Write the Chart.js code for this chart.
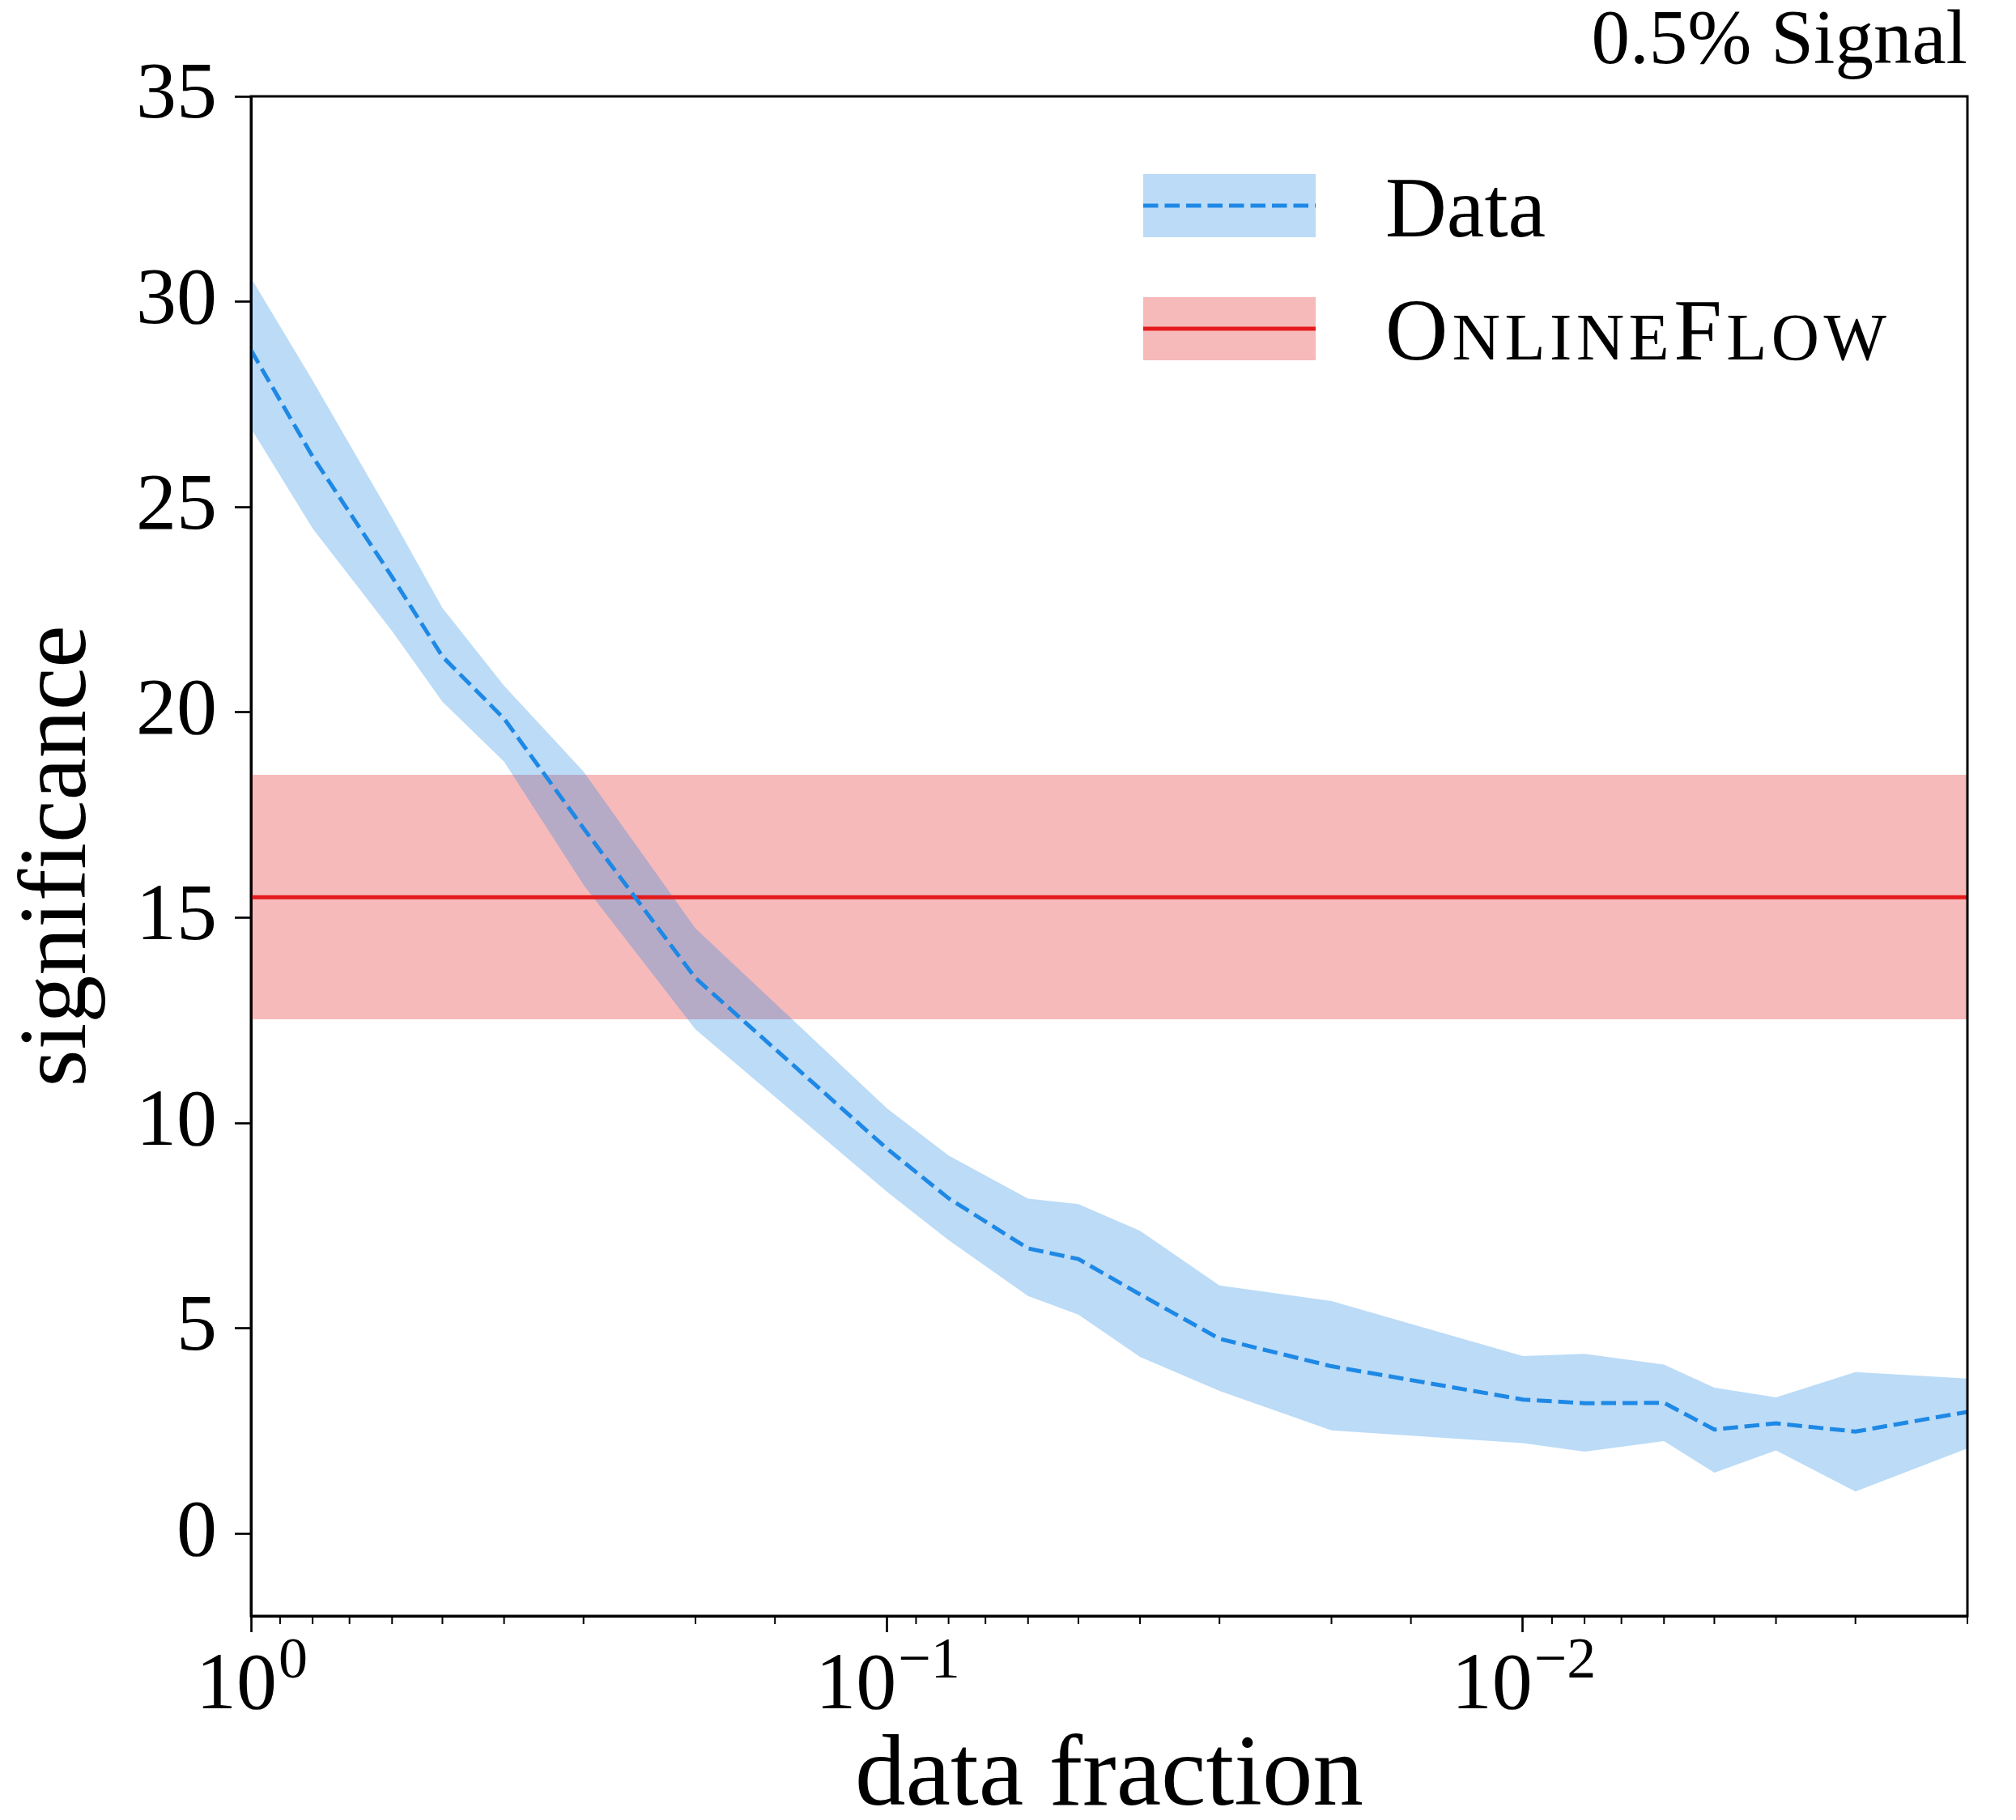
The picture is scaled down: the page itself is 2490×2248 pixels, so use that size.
<!DOCTYPE html>
<html>
<head>
<meta charset="utf-8">
<script src="https://cdn.jsdelivr.net/npm/chart.js@4.4.1/dist/chart.umd.min.js"></script>
<style>
    body { margin: 0; background: #fff; }
    #wrap { width: 2490px; height: 2248px; }
</style>
</head>
<body>
<div id="wrap"><canvas id="grafico" width="2490" height="2248"></canvas></div>
<script>
// Dados
const fractions = [1, 0.8, 0.6, 0.5, 0.4, 0.3, 0.2, 0.1, 0.08, 0.06, 0.05, 0.04, 0.03, 0.02, 0.01, 0.008, 0.006, 0.005, 0.004, 0.003, 0.002];
const dataMean  = [28.82, 26.23, 23.3, 21.36, 19.85, 17.18, 13.53, 9.38, 8.17, 6.95, 6.69, 5.83, 4.75, 4.08, 3.27, 3.18, 3.19, 2.54, 2.69, 2.49, 2.97];
const dataUpper = [30.58, 28.08, 24.74, 22.54, 20.65, 18.56, 14.74, 10.36, 9.21, 8.16, 8.03, 7.38, 6.05, 5.67, 4.33, 4.38, 4.12, 3.56, 3.32, 3.94, 3.78];
const dataLower = [26.92, 24.48, 21.98, 20.26, 18.8, 15.8, 12.28, 8.33, 7.15, 5.79, 5.34, 4.31, 3.48, 2.52, 2.21, 2.0, 2.26, 1.49, 2.03, 1.03, 2.08];

const onlineRange = [1, 0.002];
const onlineMean  = [15.5, 15.5];
const onlineUpper = [18.48, 18.48];
const onlineLower = [12.53, 12.53];

const yTicks = [0, 5, 10, 15, 20, 25, 30, 35];

const BLUE = '#1E88E5';
const RED = '#E41A1C';
const FONT = "'Liberation Serif', 'Times New Roman', serif";

const pts = (xs, ys) => xs.map((x, i) => ({ x: x, y: ys[i] }));

Chart.defaults.color = '#000';
Chart.defaults.font.family = FONT;

// Eixos extras, ticks menores, rótulos 10^n e legenda
const decorPlugin = {
    id: 'decor',
    afterDraw(chart) {
        const { ctx, chartArea: a } = chart;
        const xs = chart.scales.x;
        ctx.save();

        // moldura completa
        ctx.strokeStyle = '#000';
        ctx.lineWidth = 3;
        ctx.strokeRect(a.left, a.top, a.right - a.left, a.bottom - a.top);

        // ticks do eixo x
        xs.ticks.forEach(t => {
            const px = xs.getPixelForValue(t.value);
            const e = Math.log10(t.value);
            const major = Math.abs(e - Math.round(e)) < 1e-6;
            if (!major) {
                ctx.lineWidth = 2;
                ctx.beginPath();
                ctx.moveTo(px, a.bottom);
                ctx.lineTo(px, a.bottom + 10);
                ctx.stroke();
                return;
            }
            const exp = Math.round(e);
            const base = '10';
            const sup = exp < 0 ? '\u2212' + Math.abs(exp) : String(exp);
            ctx.font = '100px ' + FONT;
            const wb = ctx.measureText(base).width;
            ctx.font = '72px ' + FONT;
            const ws = ctx.measureText(sup).width;
            const x0 = px - (wb + ws) / 2;
            ctx.fillStyle = '#000';
            ctx.textAlign = 'left';
            ctx.textBaseline = 'alphabetic';
            ctx.font = '100px ' + FONT;
            ctx.fillText(base, x0, a.bottom + 114);
            ctx.font = '72px ' + FONT;
            ctx.fillText(sup, x0 + wb + 2, a.bottom + 76);
        });

        // legenda
        const items = [
            { label: chart.data.datasets[5].label, fill: 'rgba(30,136,229,0.3)', color: BLUE, dash: [18.5, 8] },
            { label: chart.data.datasets[4].label, fill: 'rgba(228,26,28,0.3)', color: RED, dash: [] }
        ];
        items.forEach((it, i) => {
            const top = 215 + i * 152;
            ctx.fillStyle = it.fill;
            ctx.fillRect(1412, top, 213, 78);
            ctx.strokeStyle = it.color;
            ctx.lineWidth = 5;
            ctx.setLineDash(it.dash);
            ctx.beginPath();
            ctx.moveTo(1412, top + 39);
            ctx.lineTo(1625, top + 39);
            ctx.stroke();
            ctx.setLineDash([]);
            drawSmallCaps(ctx, it.label, 1711, top + 77, i === 0 ? 0 : 5.5);
        });
        ctx.restore();
    }
};

// texto em versalete: maiúsculas grandes, minúsculas como maiúsculas menores
function drawSmallCaps(ctx, text, x, y, spacing) {
    ctx.fillStyle = '#000';
    ctx.textAlign = 'left';
    ctx.textBaseline = 'alphabetic';
    if (spacing === 0) {
        ctx.font = '105px ' + FONT;
        ctx.fillText(text, x, y);
        return;
    }
    let cx = x;
    for (const ch of text) {
        const upper = ch === ch.toUpperCase();
        ctx.font = (upper ? '107px ' : '82px ') + FONT;
        const c = ch.toUpperCase();
        ctx.fillText(c, cx, y);
        cx += ctx.measureText(c).width + spacing;
    }
}

new Chart(document.getElementById('grafico'), {
    type: 'line',
    data: {
        datasets: [
            { label: 'OnlineFlow band', data: pts(onlineRange, onlineUpper), fill: 1, backgroundColor: 'rgba(228,26,28,0.3)', borderWidth: 0, pointRadius: 0, order: 10 },
            { label: 'OnlineFlow low', data: pts(onlineRange, onlineLower), fill: false, borderWidth: 0, pointRadius: 0, order: 10 },
            { label: 'Data band', data: pts(fractions, dataUpper), fill: 3, backgroundColor: 'rgba(30,136,229,0.3)', borderWidth: 0, pointRadius: 0, order: 8 },
            { label: 'Data low', data: pts(fractions, dataLower), fill: false, borderWidth: 0, pointRadius: 0, order: 8 },
            { label: 'OnlineFlow', data: pts(onlineRange, onlineMean), borderColor: RED, borderWidth: 5, pointRadius: 0, fill: false, order: 6 },
            { label: 'Data', data: pts(fractions, dataMean), borderColor: BLUE, borderWidth: 5, borderDash: [18.5, 8], pointRadius: 0, fill: false, order: 4 }
        ]
    },
    options: {
        responsive: false,
        animation: false,
        layout: { padding: { top: 0, right: 60, left: 0, bottom: 0 } },
        plugins: {
            legend: { display: false },
            tooltip: { enabled: false },
            title: {
                display: true,
                text: '0.5% Signal',
                align: 'end',
                font: { size: 95, weight: 'normal', lineHeight: 1.12 },
                padding: { top: 0, bottom: 12.6 }
            }
        },
        scales: {
            x: {
                type: 'logarithmic',
                reverse: true,
                min: 0.002,
                max: 1,
                afterFit: s => { s.height = 252; },
                grid: {
                    drawOnChartArea: false,
                    drawTicks: true,
                    tickLength: 20,
                    tickWidth: 2.67,
                    tickColor: c => {
                        const e = Math.log10(c.tick.value);
                        return Math.abs(e - Math.round(e)) < 1e-6 ? '#000' : 'rgba(0,0,0,0)';
                    }
                },
                border: { display: true, color: '#000', width: 3 },
                ticks: { autoSkip: false, maxRotation: 0, callback: () => '' },
                title: {
                    display: true,
                    text: 'data fraction',
                    font: { size: 125, lineHeight: 0.8 },
                    padding: { top: 0, bottom: 2 }
                }
            },
            y: {
                min: -2,
                max: 35,
                afterFit: s => { s.width = 310; },
                grid: {
                    drawOnChartArea: false,
                    drawTicks: true,
                    tickLength: 20,
                    tickWidth: 2.67,
                    tickColor: '#000'
                },
                border: { display: true, color: '#000', width: 3 },
                afterBuildTicks: s => { s.ticks = yTicks.map(v => ({ value: v })); },
                ticks: { font: { size: 100 }, padding: 22 },
                title: {
                    display: true,
                    text: 'significance',
                    font: { size: 118 },
                    padding: { top: 3, bottom: 0 }
                }
            }
        }
    },
    plugins: [decorPlugin]
});
</script>
</body>
</html>
